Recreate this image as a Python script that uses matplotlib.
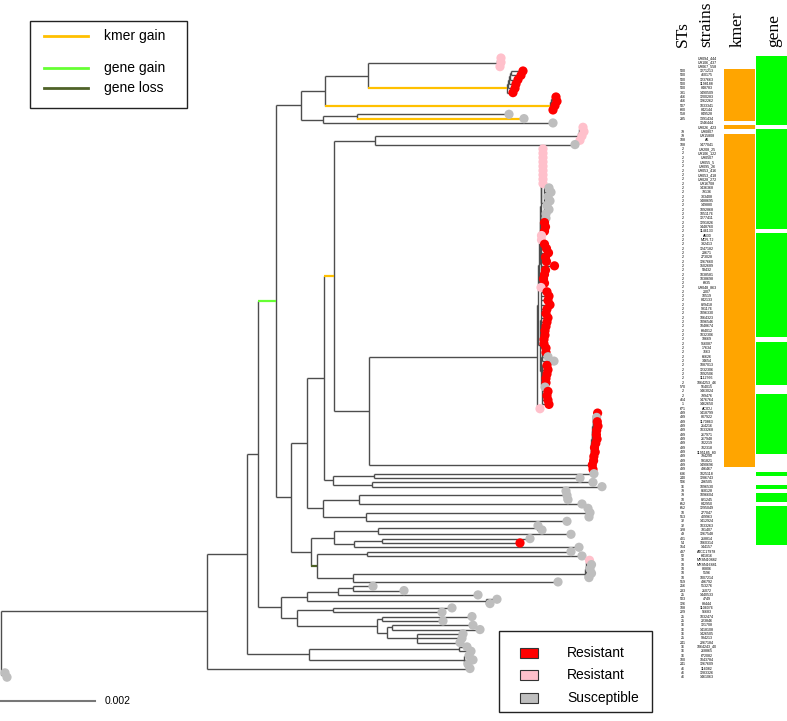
import re
import matplotlib
matplotlib.use("Agg")
import matplotlib.pyplot as plt
from matplotlib.collections import LineCollection
from matplotlib.patches import Rectangle

W, H = 787, 721

# ---------------- data ----------------
# branch lengths in units where the 0.002 scale bar spans 94 units
UNIT = 0.002 / 94

A_ = "((t0:3,t1:3):1,t2:3)A:129"
B_ = "(((((t3:12,t4:10):1,t5:8):1,t6:7):1,t7:7):1,t8:6)B:139"
C_ = "(((t9:4,t10:5):1,t11:4):1,t12:3)C:225"
N368 = f"({A_},{B_})N368:43"
N325 = f"({N368},{C_})N325:24"
N357 = "(t13:152,t14:167)N357:34"
N323t = f"({N357},t15:230)N323t:22"
N301 = f"({N325},{N323t})N301:25"
P16 = "(((t16:3,t17:4):1,t18:3):1,t19:2)P16:203"
N375 = f"({P16},t20:200)N375:41"
X1 = ("(((((" "(t21:1,t22:1,t23:1,t24:1,t25:1,t26:1,t27:1,t28:1,t29:1):1,"
      "(t30:5,t31:7,t32:4,t33:6,t34:3,t35:5,t36:2,t37:2):3):0.5,"
      "(t38:3,t39:4,t40:3):1):0.5,"
      "(t41:1,t42:1):0.5):0.5,"
      "(t43:4,t44:6,t45:8,t46:5,t47:6,t48:14,t49:5,t50:4,t51:3,t52:4):1):0.5,"
      "t53:2)X1:1")
X2 = ("((t54:6,t55:8,t56:7,t57:9,t58:6,t59:5,t60:7,t61:6,t62:5,t63:4,t64:4,t65:3,t66:3,t67:5):1,"
      "((t68:4,t69:6,t70:12):1,(t71:5,t72:6,t73:5,t74:4,t75:4,t76:3,t77:6,t78:5,t79:6,t80:7):1):1)X2:2")
BIGU = f"({X1},{X2})bigU:1"
BIG = f"({BIGU},t81:3)BIG:168"
RED2 = ("(((((((((((((t82:4,t83:3):0.3,t84:4):0.3,t85:5):0.3,t86:4):0.3,t87:4):0.3,"
        "t88:5):0.3,t89:4):0.3,t90:3):0.3,t91:4):0.3,t92:3):0.3,t93:3):0.3,t94:2):0.3,t95:3)RED2:221")
N369 = f"({BIG},{RED2})N369:35"
N334 = f"({N375},{N369})N334:10"
N333 = "((t96:220,t97:206)N374:41,(t98:221,t99:230)N372:39)N333:9"
N324 = f"({N334},{N333})N324:17"
N359 = "((t100:2,t101:3,t102:4):205,t103:223)N359:36"
N366 = "((t104:2,t105:4,t106:3):220,t107:201)N366:43"
N323 = f"({N359},{N366})N323:16"
N307 = f"({N324},{N323})N307:16"
N378 = "((t108:1,t109:5):159,t110:193)N378:44"
N354 = "((t111:148,t112:138):28,t113:225)N354:20"
N334b = f"({N378},{N354})N334b:23"
N367 = "(t114:204,t115:215)N367:50"
N353b = "(((((t116:3,t117:5):0.5,t118:4):0.5,t119:6):0.5,t120:4):232,t121:205)N353b:36"
N317 = f"({N367},{N353b})N317:6"
N310 = f"({N334b},{N317})N310:20"
N291 = f"({N307},{N310})N291:15"
N276 = f"({N301},{N291})N276:18"
N338 = "((t122:20,t123:51):15,t124:140)N338:31"
N486 = "(t125:11,t126:4)N486:179"
N307b = f"({N338},{N486})N307b:26"
N333c = "(t127:119,t128:109)N333c:36"
N377 = "((t129:90,t130:61):5,((t131:81,t132:88):5,(t133:46,t134:45,t135:43):30):10)N377:80"
N297 = f"({N333c},{N377})N297:16"
N281 = f"({N307b},{N297})N281:23"
N258 = f"({N276},{N281})N258:11"
N309 = "((t136:8,t137:12):150,(t138:5,t139:9,t140:4):155)N309:62"
N247 = f"({N258},{N309})N247:40"
ING = f"({N247},t141:263)ING:206"
OUT = "(t142:0,t143:2)OUT:4"
TREE = f"({ING},{OUT})root;"

# ancestral events on branches
BRANCH_EVENTS = {"B": "kmer gain", "C": "kmer gain", "t14": "kmer gain",
                 "N334": "kmer gain", "N276": "gene gain", "N317": "gene loss"}

STATUS = list("".join([
    "PPP", "RRRRRRRRRR", "SSS", "PPPP", "S", "PPPPPPPPP", "SSSSSSSS", "RRR", "PP",
    "RRRRRRRRRR", "P", "RRRRRRRRRRRRRR", "RSS", "RRRRRSRRRR", "P", "RS", "RRRRRRRRRRRR",
    "SSSSSSSSSSSSSSSS", "R", "SSS", "P", "SSSSSSSSSSSSSSSSSSSSSSSSSSS"]))

STRAINS = [
    'UH094_444', 'UH106_437', 'UH067_558', '1271213', '460175', '1237663', '1198188', '848783', '1490509', '1200283',
    '1262262', '1033341', '842144', '849528', '1391434', '1246444', 'UH026_423', 'UH0807', 'UH15808', 'A6',
    '1477041', 'UH208_25', 'UH106_122', 'UH0507', 'UH055_5', 'UH095_26', 'UH053_416', 'UH053_418', 'UH028_272', 'UH16708',
    '1436368', '79136', '303408', '1488695', '149880', '1092868', '1051176', '1277411', '1291826', '1448760',
    '1146133', 'AB30', 'MDR-TJ', '332413', '1247182', '23671', '273028', '1267660', '1502689', '58432',
    '1038581', '1038698', '6935', 'UH048_863', '2007', '10519', '842133', '829418', '981176', '1096330',
    '1064323', '1096546', '1048674', '684012', '1032306', '18669', '916087', '17634', '7663', '66626',
    '34654', '1087013', '1232306', '1092506', '1112766', '1064253_46', '564015', '1463024', '799476', '1476764',
    '1462650', 'ACICU', '1418799', '807922', '1170863', '214216', '1033268', '267971', '267948', '702219',
    '702318', '1195185_80', '794290', '991821', '1490696', '496467', '1025118', '1286743', '296505', '1096530',
    '868128', '1096604', '821245', '842950', '1295049', '277047', '409963', '1412924', '1033263', '781407',
    '1267548', '218814', '1060314', '144157', 'ATCC17978', '641816', 'MRSN10882', 'MRSN16881', '80806', '5596',
    '1007214', '496792', '553276', '21072', '1440533', '4749', '83444', '1106076', '96683', '1032474',
    '223846', '121708', '1418108', '1426505', '984213', '2267184', '1064243_40', '268865', '672082', '1043784',
    '1267609', '116082', '1283326', '1461063']

STS = ("- - - 500 500 500 500 500 331 416 "
       "416 507 600 558 285 - - 79 79 108 "
       "108 2 2 2 2 2 2 2 2 2 "
       "2 2 2 2 2 2 2 2 2 2 "
       "2 2 2 2 2 2 2 2 2 2 "
       "2 2 2 2 2 2 2 2 2 2 "
       "2 2 2 2 2 2 2 2 2 2 "
       "2 2 2 2 2 2 570 2 2 464 "
       "1 671 499 499 499 499 499 499 499 499 "
       "499 499 499 499 499 499 636 240 506 16 "
       "79 79 10 652 652 10 513 32 32 328 "
       "49 401 54 154 437 52 10 10 10 10 "
       "10 519 256 233 25 503 126 108 229 25 "
       "25 16 16 16 25 241 16 16 16 100 "
       "241 46 46 46").split()
STS = ["" if s == "-" else s for s in STS]

# strains (by tree row) carrying the kmer / the gene
KMER_RUNS = [(3, 14), (16, 16), (18, 94)]
GENE_RUNS = [(0, 15), (17, 39), (41, 64), (66, 75), (78, 91), (96, 96), (99, 99),
             (101, 102), (104, 112)]

STATUS_COLORS = {"R": "#FF0000", "P": "#FFC0CB", "S": "#BEBEBE"}
EVENT_COLORS = {"kmer gain": "#FFC000", "gene gain": "#66FF33", "gene loss": "#4F6228"}

assert len(STATUS) == 144 and len(STRAINS) == 144 and len(STS) == 144


# ---------------- tree parsing / layout ----------------
def parse_newick(s):
    s = s.strip().rstrip(";")
    pos = 0

    def node():
        nonlocal pos
        children = []
        if s[pos] == "(":
            pos += 1
            while True:
                children.append(node())
                if s[pos] == ",":
                    pos += 1
                    continue
                if s[pos] == ")":
                    pos += 1
                    break
        m = re.match(r"([^:,()]*)(?::([0-9.eE+-]+))?", s[pos:])
        pos += m.end()
        return {"name": m.group(1), "len": float(m.group(2)) if m.group(2) else 0.0,
                "children": children}

    return node()


root = parse_newick(TREE)
tips = []


def layout(nd, px):
    nd["x"] = px + nd["len"] * UNIT
    if not nd["children"]:
        nd["y"] = len(tips)
        tips.append(nd)
    else:
        for c in nd["children"]:
            layout(c, nd["x"])
        nd["y"] = (nd["children"][0]["y"] + nd["children"][-1]["y"]) / 2.0


root["len"] = 0.0
layout(root, 0.0)
assert len(tips) == 144
assert all(t["name"] == f"t{i}" for i, t in enumerate(tips))

# ---------------- figure ----------------
ROW0, ROWSTEP = 58.0, 4.33
fig = plt.figure(figsize=(W / 100, H / 100), dpi=100)
ax = fig.add_axes([0, 0, 1, 1])
ax.set_xlim(-1 * UNIT, (W - 1) * UNIT)
ax.set_ylim((H - ROW0) / ROWSTEP, -ROW0 / ROWSTEP)
ax.axis("off")

segs, colored = [], []


def collect(nd, parent=None):
    if parent is not None:
        seg = [(parent["x"], nd["y"]), (nd["x"], nd["y"])]
        ev = BRANCH_EVENTS.get(nd["name"])
        if ev:
            colored.append((seg, EVENT_COLORS[ev]))
        else:
            segs.append(seg)
    if nd["children"]:
        ys = [c["y"] for c in nd["children"]]
        segs.append([(nd["x"], min(ys)), (nd["x"], max(ys))])
        for c in nd["children"]:
            collect(c, nd)


collect(root)
ax.add_collection(LineCollection(segs, colors="#4D4D4D", linewidths=1.0, zorder=2))
for seg, col in colored:
    ax.add_collection(LineCollection([seg], colors=col, linewidths=1.6, zorder=2.5))

ax.scatter([t["x"] for t in tips], [t["y"] for t in tips], s=44,
           c=[STATUS_COLORS[s] for s in STATUS], linewidths=0, zorder=4)

# tip labels
ytr = ax.get_yaxis_transform()
for i in range(144):
    if STS[i]:
        ax.text(683 / W, i, STS[i], transform=ytr, fontsize=2.6, ha="center", va="center",
                family="Liberation Sans")
    ax.text(707 / W, i, STRAINS[i], transform=ytr, fontsize=2.6, ha="center", va="center",
            family="Liberation Sans")

# kmer / gene columns
for runs, x0, col in [(KMER_RUNS, 724, "#FFA500"), (GENE_RUNS, 756, "#00FF00")]:
    for a, b in runs:
        ax.add_patch(Rectangle((x0 / W, a - 0.5), 31 / W, b - a + 1, transform=ytr,
                               facecolor=col, edgecolor="none", zorder=1))

# column headers
for label, px in [("STs", 683), ("strains", 706), ("kmer", 738), ("gene", 774)]:
    ax.text(px / W, 1 - 47 / H, label, transform=ax.transAxes, rotation=90, ha="center",
            va="bottom", fontsize=12.5, family="Liberation Serif")


def P(px, py):
    return (px / W, 1 - py / H)


# event legend
ax.add_patch(Rectangle(P(30, 108), 157 / W, 87 / H, transform=ax.transAxes,
                       facecolor="white", edgecolor="#222222", linewidth=1.0, zorder=5))
for lab, py in [("kmer gain", 36), ("gene gain", 68), ("gene loss", 88)]:
    (x1, y1), (x2, _) = P(44, py), P(88, py)
    ax.plot([x1, x2], [y1, y1], transform=ax.transAxes, color=EVENT_COLORS[lab], lw=2.0, zorder=6)
    ax.text(*P(104, py), lab, transform=ax.transAxes, fontsize=10, va="center", ha="left",
            family="Liberation Sans", zorder=6)

# status legend
ax.add_patch(Rectangle(P(499, 712), 153 / W, 81 / H, transform=ax.transAxes,
                       facecolor="white", edgecolor="#222222", linewidth=1.0, zorder=5))
for lab, key, py in [("Resistant", "R", 653), ("Resistant", "P", 675), ("Susceptible", "S", 698)]:
    ax.add_patch(Rectangle(P(520, py + 5), 18 / W, 10 / H, transform=ax.transAxes,
                           facecolor=STATUS_COLORS[key], edgecolor="#333333", linewidth=0.8, zorder=6))
    ax.text(*P(567, py), lab, transform=ax.transAxes, fontsize=10, va="center", ha="left",
            family="Liberation Sans", zorder=6)

# scale bar
xtr = ax.get_xaxis_transform()
ax.plot([0, 0.002], [1 - 701 / H] * 2, transform=xtr, color="#777777", lw=1.5)
ax.text(0.002 + 10 * UNIT, 1 - 701 / H, "0.002", transform=xtr, fontsize=7.5, va="center",
        ha="left", family="Liberation Sans")

fig.savefig("out.png", dpi=100)
